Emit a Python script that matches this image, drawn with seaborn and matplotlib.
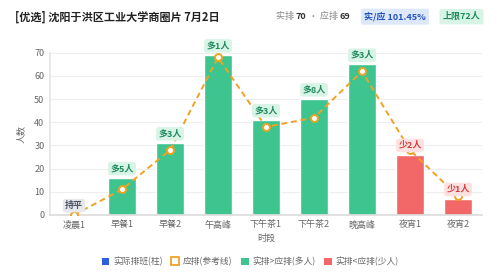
import numpy as np
import pandas as pd
import matplotlib
matplotlib.use('Agg')
import matplotlib.pyplot as plt
from matplotlib.patches import Patch
from matplotlib.lines import Line2D
import seaborn as sns

# data
periods = ['凌晨1', '早餐1', '早餐2', '午高峰', '下午茶1', '下午茶2', '晚高峰', '夜宵1', '夜宵2']
actual = [0, 16, 31, 69, 41, 50, 65, 26, 7]
should = [0, 11, 28, 68, 38, 42, 62, 28, 8]
y_ticks = [0, 10, 20, 30, 40, 50, 60, 70]

GREEN = '#3ec48f'
RED = '#f26868'
ORANGE = '#f0a323'
BLUE = '#2f5fe0'

sns.set_theme(style='white')
plt.rcParams['font.family'] = ['Noto Sans CJK SC', 'DejaVu Sans']

df = pd.DataFrame({'period': periods, 'actual': actual, 'should': should})
df['diff'] = df['actual'] - df['should']
df['status'] = np.where(df['diff'] >= 0, 'more', 'less')

fig = plt.figure(figsize=(5, 2.78), dpi=100)
ax = fig.add_axes([0.10, 0.227, 0.864, 0.583])

sns.barplot(data=df, x='period', y='actual', hue='status', order=periods,
            palette={'more': GREEN, 'less': RED}, dodge=False, width=0.6,
            saturation=1, legend=False, ax=ax, zorder=2)

ax.plot(range(len(periods)), should, color=ORANGE, linestyle=(0, (3, 2)), lw=1.4,
        marker='o', markersize=5, markerfacecolor='white', markeredgecolor=ORANGE,
        markeredgewidth=1.4, zorder=4)

# difference tags above bars
for i, row in df.iterrows():
    d = row['diff']
    if d > 0:
        txt, fg, bg = '多%d人' % d, '#1f8a5c', '#d8f4e7'
    elif d < 0:
        txt, fg, bg = '少%d人' % (-d), '#d33a3a', '#fde1e1'
    else:
        txt, fg, bg = '持平', '#4b5563', '#e6e8ec'
    ax.text(i, row['actual'] + 4, txt, ha='center', va='center', fontsize=6.5,
            fontweight='bold', color=fg, zorder=5, clip_on=False,
            bbox=dict(boxstyle='round,pad=0.25,rounding_size=0.3', fc=bg, ec='none'))

ax.set_ylim(0, 70)
ax.set_xlim(-0.5, len(periods) - 0.5)
ax.set_yticks(y_ticks)
ax.yaxis.grid(True, color='#eeeeee', lw=0.8, zorder=0)
ax.set_axisbelow(True)
for s in ['top', 'right']:
    ax.spines[s].set_visible(False)
ax.spines['left'].set_color('#e5e5e5')
ax.spines['bottom'].set_color('#dddddd')
ax.tick_params(axis='both', labelsize=6.5, colors='#666666', length=0, pad=4)
ax.set_xlabel('时段', fontsize=6.5, color='#666666', labelpad=3)
ax.set_ylabel('人数', fontsize=6.5, color='#666666', labelpad=6)

# header
fig.text(0.03, 0.94, '[优选] 沈阳于洪区工业大学商圈片 7月2日', fontsize=8, fontweight='bold',
         color='#222222', va='center')

# summary pieces laid out one after another
renderer = fig.canvas.get_renderer()
pieces = [('实排 ', '#888888', 'normal'), ('70', '#333333', 'bold'),
          (' · 应排 ', '#888888', 'normal'), ('69', '#333333', 'bold')]
x = 276
for s, c, w in pieces:
    t = fig.text(x / 500, 0.94, s, fontsize=6.5, color=c, fontweight=w, va='center')
    x = t.get_window_extent(renderer).x1

fig.text(0.79, 0.94, '实/应 101.45%', fontsize=6.5, fontweight='bold', color='#2452c2',
         ha='center', va='center',
         bbox=dict(boxstyle='round,pad=0.35,rounding_size=0.2', fc='#dde8fb', ec='none'))
fig.text(0.923, 0.94, '上限72人', fontsize=6.5, fontweight='bold', color='#1f8a5c',
         ha='center', va='center',
         bbox=dict(boxstyle='round,pad=0.35,rounding_size=0.2', fc='#d8f4e7', ec='none'))

handles = [
    Patch(facecolor=BLUE, edgecolor='none'),
    Line2D([0], [0], marker='s', linestyle='none', markersize=6, markerfacecolor='white',
           markeredgecolor=ORANGE, markeredgewidth=1.3),
    Patch(facecolor=GREEN, edgecolor='none'),
    Patch(facecolor=RED, edgecolor='none'),
]
labels = ['实际排班(柱)', '应排(参考线)', '实排>应排(多人)', '实排<应排(少人)']
fig.legend(handles, labels, loc='center', bbox_to_anchor=(0.5, 0.058), ncol=4,
           frameon=False, fontsize=6.3, labelcolor='#666666', handlelength=0.9,
           handleheight=0.9, handletextpad=0.4, columnspacing=1.0)

fig.savefig('out.png', dpi=100)
